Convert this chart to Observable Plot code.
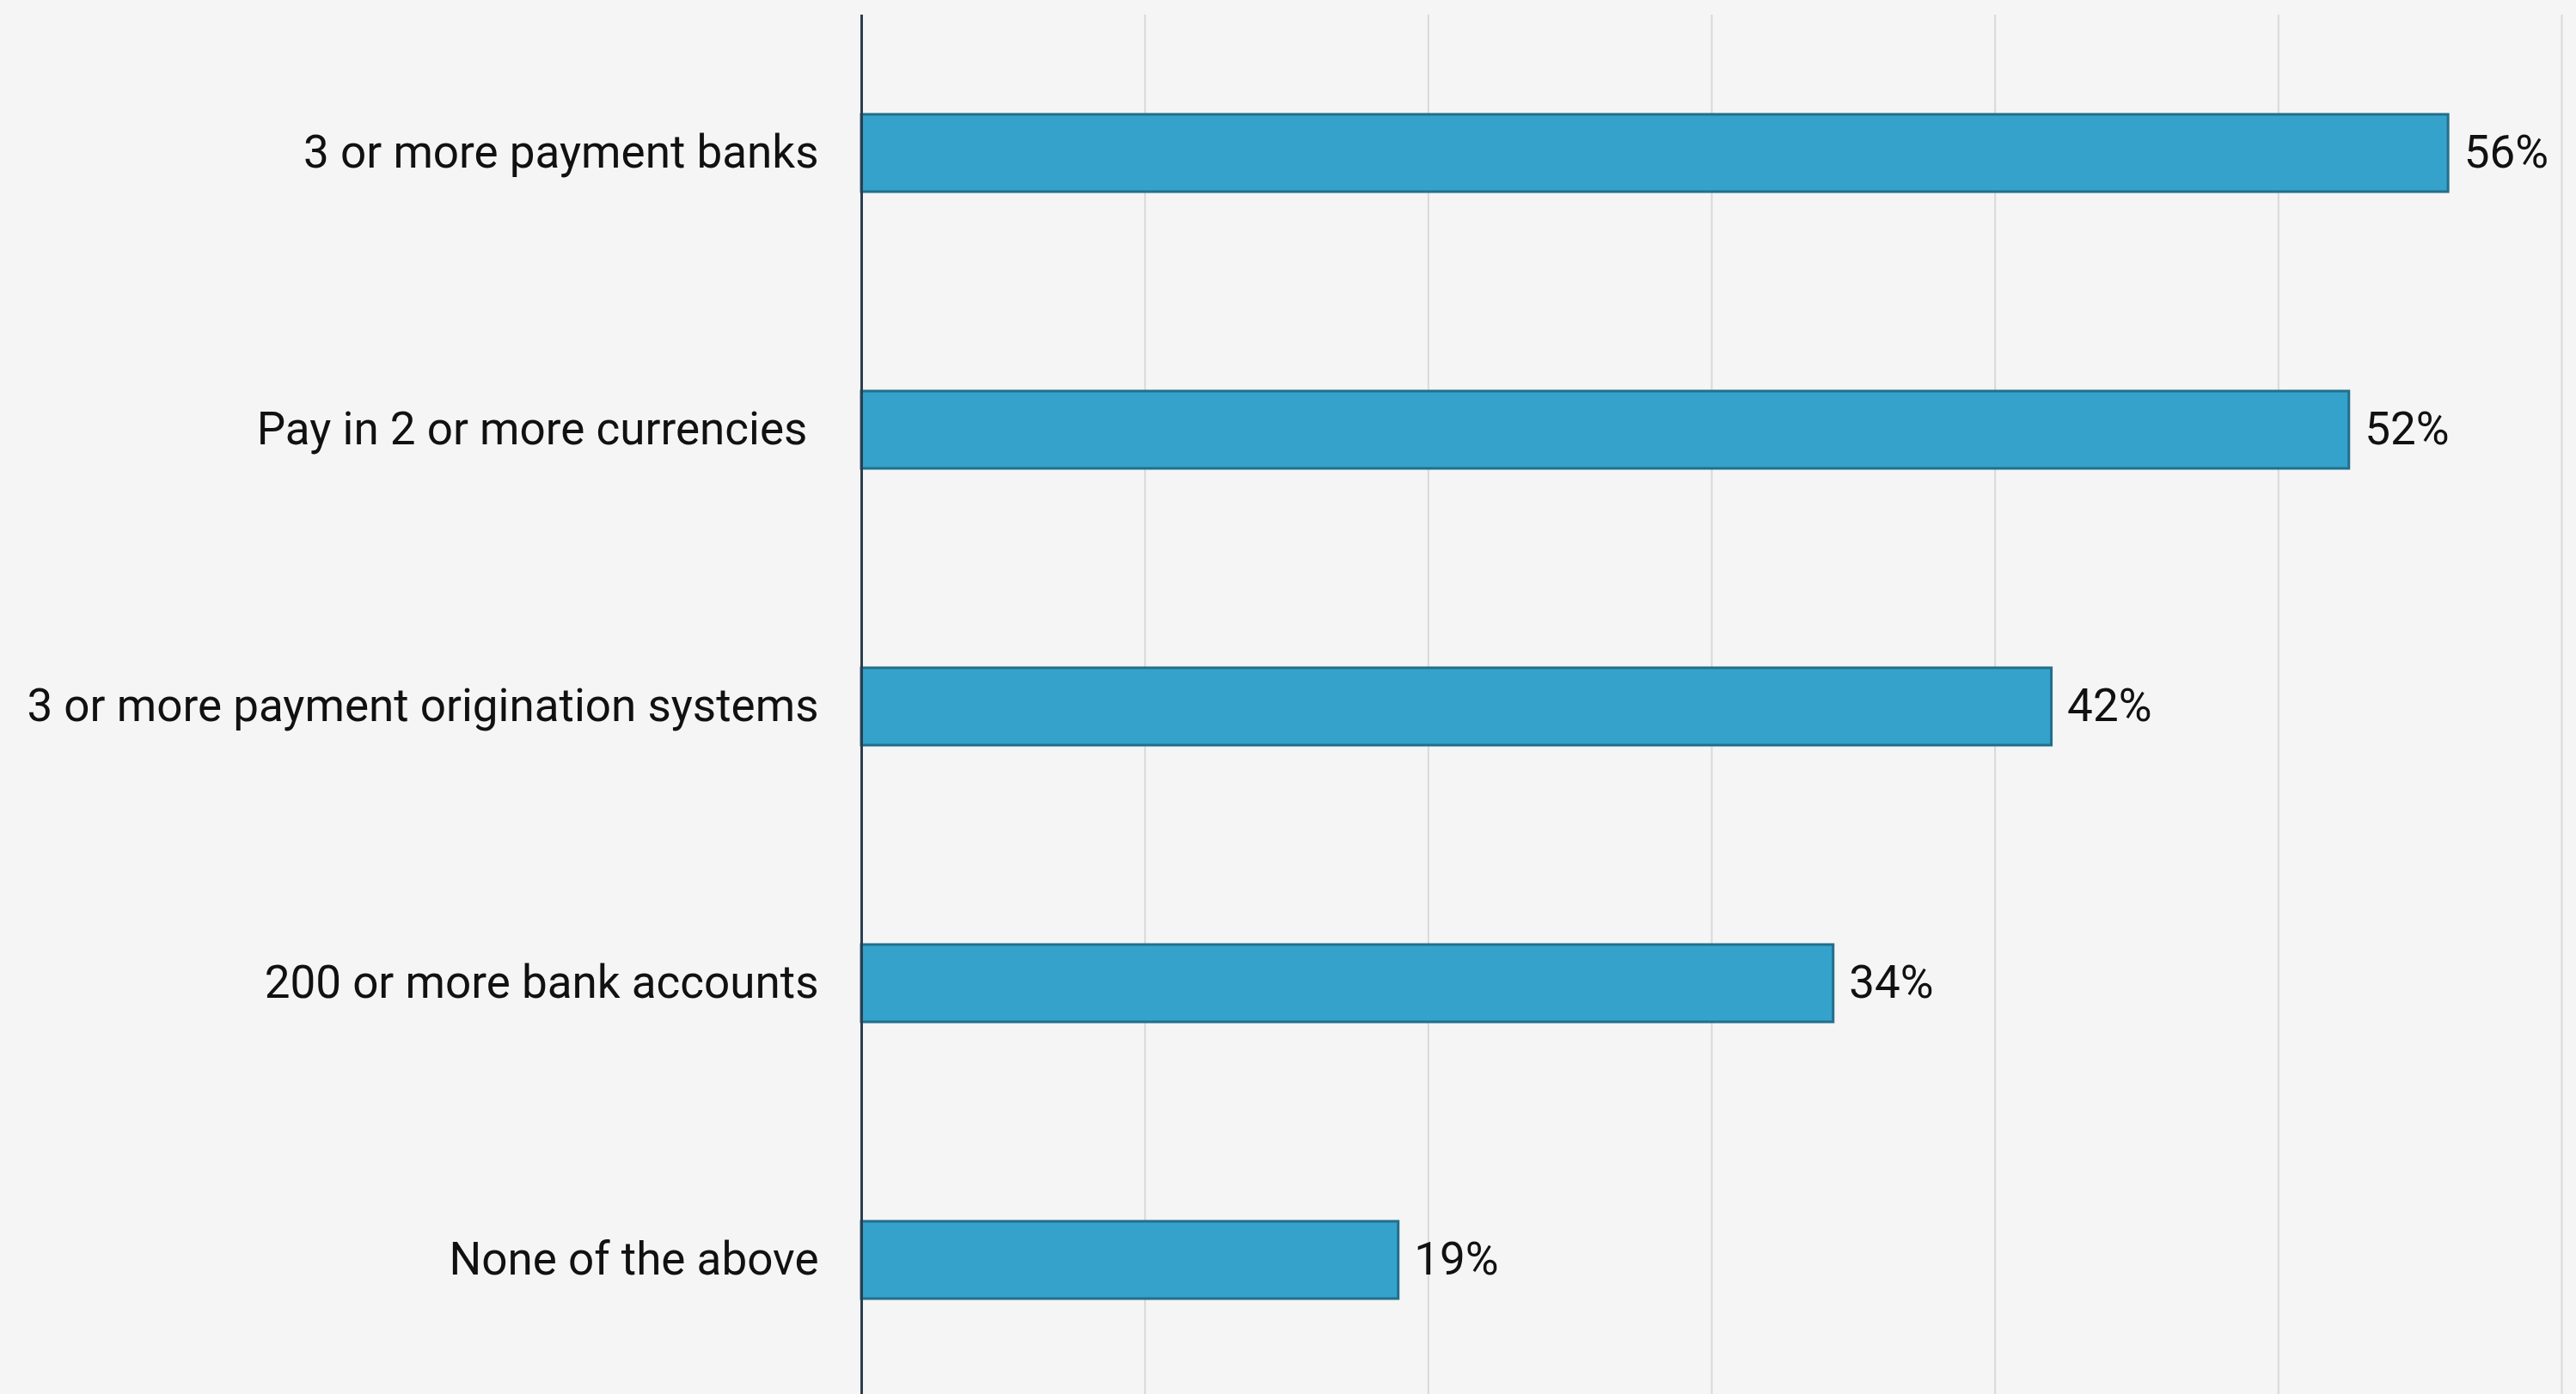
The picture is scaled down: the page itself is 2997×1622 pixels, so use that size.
<!DOCTYPE html>
<html>
<head>
<meta charset="utf-8">
<script src="https://cdn.jsdelivr.net/npm/d3@7"></script>
<script src="https://cdn.jsdelivr.net/npm/@observablehq/plot@0.6"></script>
<style>
  html, body { margin: 0; padding: 0; background: #f5f5f5; }
  #chart svg { display: block; }
</style>
</head>
<body>
<div id="chart"></div>
<script>
const categories = [
  "3 or more payment banks",
  "Pay in 2 or more currencies\u00a0",
  "3 or more payment origination systems",
  "200 or more bank accounts",
  "None of the above"
];
const values = [56, 52.5, 42, 34.3, 18.95];
const valueLabels = ["56%", "52%", "42%", "34%", "19%"];
const gridTicks = [10, 20, 30, 40, 50, 60];

const data = categories.map((c, i) => ({category: c, value: values[i], label: valueLabels[i]}));

const chart = Plot.plot({
  width: 2997,
  height: 1622,
  marginTop: 17,
  marginBottom: -5,
  marginLeft: 1002,
  marginRight: 17,
  style: {background: "#f5f5f5", fontFamily: "Roboto, sans-serif", fontSize: "53px", color: "#111"},
  x: {domain: [0, 60], axis: null},
  y: {domain: categories, padding: 0, label: null},
  marks: [
    Plot.ruleX(gridTicks, {stroke: "#d9d9d9", strokeWidth: 2}),
    Plot.barX(data, {
      y: "category", x: "value",
      fill: "#35a2cb", stroke: "#226f8b", strokeWidth: 3,
      insetTop: 116, insetBottom: 116
    }),
    Plot.text(data, {
      y: "category", x: "value",
      text: "label",
      textAnchor: "start", dx: 18,
      fill: "#111", fontSize: 53
    }),
    Plot.ruleX([0], {stroke: "#2c3e50", strokeWidth: 3}),
    Plot.axisY({tickSize: 0, tickPadding: 50, fontSize: 53, fill: "#111", label: null})
  ]
});
document.getElementById("chart").appendChild(chart);
</script>
</body>
</html>
